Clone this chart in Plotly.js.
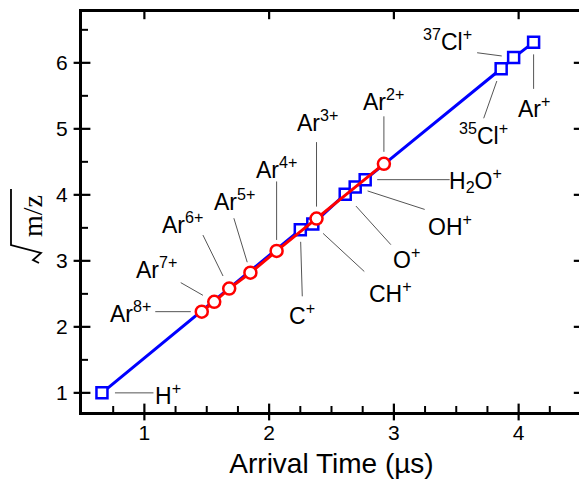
<!DOCTYPE html>
<html><head><meta charset="utf-8">
<script src="https://cdn.plot.ly/plotly-3.0.1.min.js"></script>
<style>html,body{margin:0;padding:0;overflow:hidden;background:#fff}</style>
</head><body><div id="chart" style="width:581px;height:479px"></div>
<script>
// Molecular / atomic ions (blue squares)
const ionNames = ['H<sup>+</sup>','C<sup>+</sup>','CH<sup>+</sup>','O<sup>+</sup>','OH<sup>+</sup>','H<sub>2</sub>O<sup>+</sup>','<sup>35</sup>Cl<sup>+</sup>','<sup>37</sup>Cl<sup>+</sup>','Ar<sup>+</sup>'];
const ionTime = [0.66, 2.25, 2.35, 2.61, 2.69, 2.77, 3.86, 3.96, 4.12];
const ionSqrtMZ = [1.0, 3.47, 3.56, 4.01, 4.12, 4.23, 5.91, 6.08, 6.31];
// Argon charge states (red circles)
const arNames = ['Ar<sup>8+</sup>','Ar<sup>7+</sup>','Ar<sup>6+</sup>','Ar<sup>5+</sup>','Ar<sup>4+</sup>','Ar<sup>3+</sup>','Ar<sup>2+</sup>'];
const arTime = [1.46, 1.56, 1.68, 1.85, 2.06, 2.38, 2.92];
const arSqrtMZ = [2.23, 2.38, 2.58, 2.82, 3.15, 3.64, 4.47];
// ticks
const xTicks = [1, 2, 3, 4];
const xMinor = [0.75, 1.25, 1.5, 1.75, 2.25, 2.5, 2.75, 3.25, 3.5, 3.75, 4.25];
const yTicks = [1, 2, 3, 4, 5, 6];
const yMinor = [1.5, 2.5, 3.5, 4.5, 5.5, 6.5];

const ionLab = [
  {tx:66, ty:-1, ax:53, ay:0, s:13},
  {tx:2, ty:-84, ax:2, ay:68, s:12},
  {tx:78, ty:-68, ax:53, ay:49, s:14},
  {tx:61, ty:-64, ax:47, ay:52, s:16},
  {tx:95, ty:-38, ax:71, ay:23, s:13},
  {tx:110, ty:0, ax:86, ay:0, s:12},
  {tx:-18, ty:-65, ax:-18, ay:51, s:13},
  {tx:-66, ty:18, ax:-38, ay:-5, s:12},
  {tx:0, ty:-65, ax:0, ay:48, s:12}
];
const arLab = [
  {tx:-71, ty:0, ax:-48, ay:0, s:11},
  {tx:-58, ty:34, ax:-35, ay:-20, s:13},
  {tx:-47, ty:66, ax:-27, ay:-55, s:14},
  {tx:-16, ty:73, ax:-17, ay:-56, s:11},
  {tx:0, ty:83, ax:0, ay:-71, s:11},
  {tx:1, ty:98, ax:0, ay:-78, s:12},
  {tx:0, ty:64, ax:0, ay:-49, s:12}
];

const FONT = 'Liberation Sans, Arial, sans-serif';
const XR = [0.5, 4.5], YR = [0.71, 6.77];
const L0 = 82, T0 = 12, PW = 499, PH = 400;
const ux = (XR[1] - XR[0]) / PW, uy = (YR[1] - YR[0]) / PH; // data units per pixel

// tick marks drawn as line-shaped markers placed on the axes
function tickTrace(xs, ys, sym, size, w) {
  return {x: xs, y: ys, mode: 'markers', type: 'scatter', cliponaxis: false, showlegend: false, hoverinfo: 'skip',
    marker: {symbol: sym, size: size, color: '#000', line: {color: '#000', width: w}}};
}
const traces = [
  {x: ionTime, y: ionSqrtMZ, mode: 'lines+markers', type: 'scatter',
   line: {color: '#0000ff', width: 3},
   marker: {symbol: 'square', size: 11, color: '#ffffff', line: {color: '#0000ff', width: 2.5}},
   showlegend: false, hoverinfo: 'skip'},
  {x: arTime, y: arSqrtMZ, mode: 'lines+markers', type: 'scatter',
   line: {color: '#ff0000', width: 3},
   marker: {symbol: 'circle', size: 12, color: '#ffffff', line: {color: '#ff0000', width: 2.5}},
   showlegend: false, hoverinfo: 'skip'},
  tickTrace(xTicks, xTicks.map(() => YR[0]), 'line-ns', 12, 2.2),
  tickTrace(xTicks, xTicks.map(() => YR[1] - 3 * uy), 'line-ns', 6, 2.2),
  tickTrace(xMinor, xMinor.map(() => YR[0] + 2.5 * uy), 'line-ns', 5, 2),
  tickTrace(yTicks.map(() => XR[0]), yTicks, 'line-ew', 12, 2.2),
  tickTrace(yTicks.map(() => XR[1] - 3 * ux), yTicks, 'line-ew', 6, 2.2),
  tickTrace(yMinor.map(() => XR[0] + 2.5 * ux), yMinor, 'line-ew', 5, 2)
];

const annotations = [];
function addLabels(names, xs, ys, lab) {
  names.forEach((n, i) => {
    const L = lab[i];
    annotations.push({x: xs[i], y: ys[i], xref: 'x', yref: 'y', text: '', showarrow: true,
      arrowhead: 0, arrowwidth: 1, arrowcolor: '#555555', ax: L.ax, ay: L.ay, standoff: L.s});
    annotations.push({x: xs[i], y: ys[i], xref: 'x', yref: 'y', text: n, showarrow: false,
      xshift: L.tx, yshift: L.ty, font: {family: FONT, size: 23, color: '#000'}});
  });
}
addLabels(ionNames, ionTime, ionSqrtMZ, ionLab);
addLabels(arNames, arTime, arSqrtMZ, arLab);

function px(x) { return ((x - L0) / PW).toFixed(4); }
function py(y) { return ((T0 + PH - y) / PH).toFixed(4); }
annotations.push({xref: 'paper', yref: 'paper', x: (32 - L0) / PW, y: (T0 + PH - 216) / PH,
  xanchor: 'center', yanchor: 'middle',
  text: 'm/z', textangle: -90, showarrow: false,
  font: {family: 'Liberation Serif, Times New Roman, serif', size: 28, color: '#000'}});
const radical = 'M ' + px(11) + ',' + py(189) + ' L ' + px(11) + ',' + py(245) +
  ' L ' + px(41) + ',' + py(253) + ' L ' + px(33) + ',' + py(260) + ' L ' + px(39) + ',' + py(263);

const layout = {
  width: 581, height: 479,
  margin: {l: 82, r: 0, t: 12, b: 67},
  paper_bgcolor: '#fff', plot_bgcolor: '#fff',
  font: {family: FONT, color: '#000'},
  xaxis: {range: XR, tickvals: xTicks, ticks: '', showline: true, linewidth: 3, linecolor: '#000', mirror: true,
    showgrid: false, zeroline: false, tickfont: {size: 21},
    title: {text: 'Arrival Time (µs)', font: {size: 28}, standoff: 12}},
  yaxis: {range: YR, tickvals: yTicks, ticks: '', showline: true, linewidth: 3, linecolor: '#000', mirror: true,
    showgrid: false, zeroline: false, tickfont: {size: 21}, ticklabelstandoff: 7},
  annotations: annotations,
  shapes: [{type: 'path', xref: 'paper', yref: 'paper', path: radical, line: {color: '#000', width: 1.8}}]
};
Plotly.newPlot('chart', traces, layout, {displayModeBar: false});
</script></body></html>
